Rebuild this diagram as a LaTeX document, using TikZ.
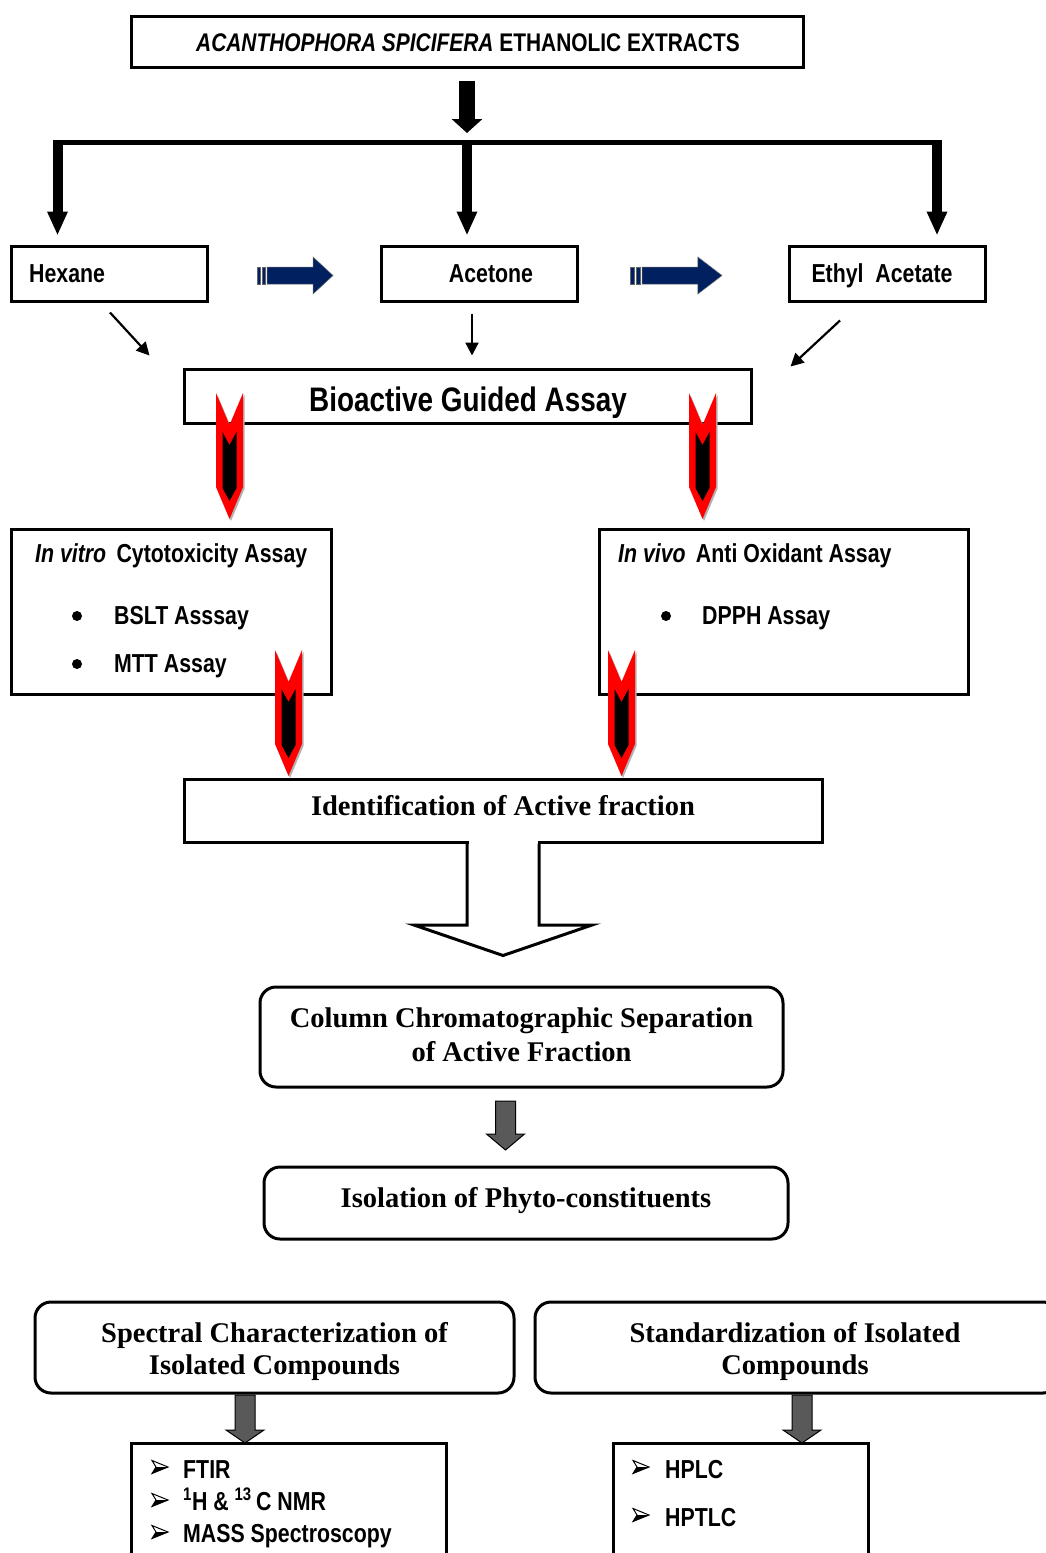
\documentclass[tikz,border=0pt]{standalone}
\usepackage{fontspec}
\setmainfont{Liberation Serif}
\newfontfamily\nar[FakeStretch=0.82]{Liberation Sans}
\newfontfamily\tms{Liberation Serif}
\usetikzlibrary{arrows.meta,calc}
\definecolor{navyc}{RGB}{0,32,96}
\definecolor{dgray}{RGB}{89,89,89}
\definecolor{redc}{RGB}{255,0,0}
\newcommand{\GrArrShape}[4]{%
  \filldraw[fill=dgray, draw=black, line width=1pt, line join=miter]
    (#1-10,#2) -- (#1-10,#3) -- (#1-19,#3) -- (#1,#4) -- (#1+19,#3) -- (#1+10,#3) -- (#1+10,#2) -- cycle;}
\tikzset{
  pics/bluearr/.style={code={
    \filldraw[fill=navyc, draw=black!60, line width=0.5pt] (-38,-8.5) rectangle (-34.5,8.5);
    \filldraw[fill=navyc, draw=black!60, line width=0.5pt] (-33,-8.5) rectangle (-29.5,8.5);
    \filldraw[fill=navyc, draw=black!60, line width=0.5pt, line join=miter]
      (-28,-8.5) -- (18,-8.5) -- (18,-18.5) -- (38,0) -- (18,18.5) -- (18,8.5) -- (-28,8.5) -- cycle;
  }},
  pics/redchev/.style={code={
    \fill[black!30] (-12,2) -- (1.5,34) -- (15,2) -- (15,96) -- (1.5,128) -- (-12,96) -- cycle;
    \fill[redc] (-13.5,0) -- (0,32) -- (13.5,0) -- (13.5,94) -- (0,126) -- (-13.5,94) -- cycle;
    \fill[black] (-7,39) -- (0,52) -- (7,39) -- (7,95) -- (0,108) -- (-7,95) -- cycle;
  }},
  pics/tribul/.style={code={
    \fill[black] (4,0) -- (16,0) -- (0,6.5) -- cycle;
    \draw[line width=1pt, line join=miter] (0,-6.5) -- (16,0) -- (0,6.5) -- (4,0) -- cycle;
  }}
}
\begin{document}
\begin{tikzpicture}[x=1pt,y=-1pt,
  sq/.style={draw, line width=3pt, inner sep=0pt},
  rbox/.style={draw, line width=3pt, rounded corners=16pt, inner sep=0pt},
  nt/.style={font=\nar\bfseries\fontsize{26}{30}\selectfont, inner sep=0pt},
  st/.style={font=\tms\bfseries\fontsize{28.5}{33}\selectfont, inner sep=0pt},
  branch/.style={line width=10pt, -{Triangle[length=24pt,width=19pt]}},
  thinarr/.style={line width=2.2pt, -{Triangle[length=13pt,width=13pt]}},
  bulletc/.style={circle, fill=black, inner sep=0pt, minimum size=10pt}
]
\useasboundingbox (0,0) rectangle (1045,1553);
\fill[white] (0,0) rectangle (1045,1553);

% title
\node[sq, minimum width=672pt, minimum height=51pt] (title) at (467.5,41.5) {};
\node[nt, font=\nar\bfseries\fontsize{25.5}{30}\selectfont, anchor=base] (titletxt) at (468,51)
  {\itshape ACANTHOPHORA SPICIFERA\upshape{} ETHANOLIC EXTRACTS};

% split
\coordinate (split) at (467,142.5);
\coordinate (bl) at (57.5,140);
\coordinate (bm) at (467,140);
\coordinate (br) at (937,140);
\draw[line width=16pt, -{Triangle[length=14pt,width=30pt]}, shorten <=12pt, shorten >=9.5pt]
  (title.south -| split) -- (split);
\draw[line width=5pt] (52.5,142.5) -- (942,142.5);

% solvent boxes
\node[sq, minimum width=196pt, minimum height=55pt] (hex) at (109,273.5) {};
\node[sq, minimum width=196pt, minimum height=55pt] (ace) at (479,273.5) {};
\node[sq, minimum width=196pt, minimum height=55pt] (eth) at (887,273.5) {};
\node[nt, anchor=base west] (hextxt) at (29,282) {Hexane};
\node[nt, anchor=base] (acetxt) at (491,282) {Acetone};
\node[nt, anchor=base] (ethtxt) at (882,282) {Ethyl~ Acetate};

\draw[branch, shorten >=9pt] (bl) -- (bl |- hex.north);
\draw[branch, shorten >=9pt] (bm) -- (bm |- ace.north);
\draw[branch, shorten >=9pt] (br) -- (br |- eth.north);

\pic at (295,275.5) {bluearr};
\pic[xscale=1.21] at (676,275.5) {bluearr};

% bioactive
\node[sq, minimum width=567pt, minimum height=54pt] (bio) at (467.5,396) {};
\node[nt, font=\nar\bfseries\fontsize{34}{38}\selectfont, anchor=base] (biotxt) at (468,411) {Bioactive Guided Assay};

\draw[thinarr] ($(hex.south)+(1,10)$) -- ($(bio.north west)+(-33,-12)$);
\draw[thinarr] ($(ace.south)+(-7,11)$) -- ($(ace.south)+(-7,53)$);
\draw[thinarr] ($(eth.south)+(-47,18)$) -- ($(bio.north east)+(38,-1)$);

% assay boxes
\node[sq, minimum width=320pt, minimum height=165pt] (vitro) at (171,611.5) {};
\node[sq, minimum width=369pt, minimum height=165pt] (vivo) at (783.5,611.5) {};
\node[nt, anchor=base west] (vitrotxt) at (35,562) {\itshape In vitro\upshape{}\, Cytotoxicity Assay};
\node[bulletc] (b1) at (77,616) {};
\node[nt, anchor=base west] (bslt) at (114,624) {BSLT Asssay};
\node[bulletc] (b2) at (77,664) {};
\node[nt, anchor=base west] (mtt) at (114,672) {MTT Assay};
\node[nt, anchor=base west] (vivotxt) at (618,562) {\itshape In vivo\upshape{}\, Anti Oxidant Assay};
\node[bulletc] (b3) at (666,616) {};
\node[nt, anchor=base west] (dpph) at (702,624) {DPPH Assay};

% identification
\node[sq, minimum width=638pt, minimum height=63pt] (ident) at (503,810.5) {};
\node[st, anchor=base] (identtxt) at (503,815) {Identification of Active fraction};

% red chevrons
\pic at (229.5,393) {redchev};
\pic at (702.5,393) {redchev};
\pic at (288.5,650) {redchev};
\pic at (621.5,650) {redchev};

% hollow arrow
\fill[white] (468.5,838) -- (468.5,925) -- (537.5,925) -- (537.5,838) -- cycle;
\filldraw[fill=white, draw=none] (467,925) -- (415,925) -- (503,955) -- (591,925) -- cycle;
\draw[line width=3pt, line join=miter] ($(ident.south)+(-36,0)$) -- (467,925) -- (414,925) -- (503,955.5) -- (592,925) -- (539,925) -- ($(ident.south)+(36,0)$);

% column
\node[rbox, minimum width=523pt, minimum height=100pt] (col) at (521.5,1037) {};
\node[st, anchor=base] (coltxt1) at (521.5,1027) {Column Chromatographic Separation};
\node[st, anchor=base] (coltxt2) at (521.5,1061) {of Active Fraction};

\GrArrShape{505.5}{1101}{1134}{1150}

\node[rbox, minimum width=524pt, minimum height=72pt] (iso) at (526,1203) {};
\node[st, anchor=base] (isotxt) at (526,1207) {Isolation of Phyto-constituents};

% bottom boxes
\node[rbox, minimum width=479pt, minimum height=91pt] (spec) at (274.5,1347.5) {};
\node[st, anchor=base] (spectxt1) at (274.5,1342) {Spectral Characterization of};
\node[st, anchor=base] (spectxt2) at (274.5,1374) {Isolated Compounds};
\node[rbox, minimum width=524pt, minimum height=91pt] (std) at (797,1347.5) {};
\node[st, anchor=base] (stdtxt1) at (795,1342) {Standardization of Isolated};
\node[st, anchor=base] (stdtxt2) at (795,1374) {Compounds};

\node[sq, minimum width=315pt, minimum height=114pt] (specl) at (288.5,1500) {};
\node[sq, minimum width=255pt, minimum height=114pt] (stdl) at (740.5,1500) {};

\GrArrShape{245}{1395}{1430}{1443}
\GrArrShape{802}{1395}{1430}{1443}

\pic at (152,1467) {tribul};
\node[nt, anchor=base west] (ftir) at (183,1478) {FTIR};
\pic at (152,1500) {tribul};
\node[nt, anchor=base west] (nmr) at (183,1510) {\textsuperscript{1}H \& \textsuperscript{13}\,C NMR};
\pic at (152,1532) {tribul};
\node[nt, anchor=base west] (mass) at (183,1542) {MASS Spectroscopy};
\pic at (633,1467) {tribul};
\node[nt, anchor=base west] (hplc) at (665,1478) {HPLC};
\pic at (633,1515) {tribul};
\node[nt, anchor=base west] (hptlc) at (665,1526) {HPTLC};
\end{tikzpicture}
\end{document}
